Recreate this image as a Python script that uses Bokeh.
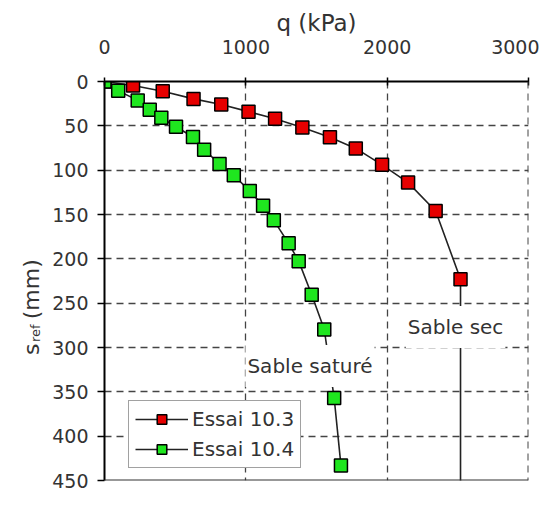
import math
from bokeh.plotting import figure
from bokeh.models import Range1d, FixedTicker, Span, Label, Legend, LegendItem
from bokeh.layouts import row
from bokeh.core.properties import value
from bokeh.embed import file_html
from bokeh.resources import INLINE

# Essai 10.3 (sable sec)
red_q = [0, 202, 412, 630, 826, 1019, 1207, 1400, 1595, 1778, 1964, 2148, 2343, 2519]
red_s = [0, 4.5, 11, 19.6, 26, 34, 42, 52, 63, 75.5, 94, 114, 146, 223]
# vertical continuation of Essai 10.3 after the last point
red_tail_q = [2519, 2519]
red_tail_s = [223, 460]

# Essai 10.4 (sable saturé)
green_q = [0, 97, 235, 320, 402, 506, 626, 705, 814, 915, 1028, 1122, 1198, 1303, 1374, 1466, 1555, 1625, 1673]
green_s = [0, 10.5, 21.3, 32, 41, 51, 62.6, 77, 93, 105.7, 123.6, 140, 156.6, 182.5, 202.6, 240.6, 279.7, 357, 433]

x_ticks = [0, 1000, 2000, 3000]
y_ticks = [0, 50, 100, 150, 200, 250, 300, 350, 400, 450]

FONT = "DejaVu Sans"
TXT = "#333333"
H = 490
LW = 45  # width of the strip that holds the y title

# ---------- strip with the y-axis title s_ref (mm) ----------
side = figure(width=LW, height=H, output_backend="svg", toolbar_location=None,
              x_range=Range1d(0, LW), y_range=Range1d(H, 0),
              min_border_left=0, min_border_right=0, min_border_top=0, min_border_bottom=0)
side.axis.visible = False
side.grid.visible = False
side.outline_line_color = None
side.text(x=[31], y=[336], text=["s"], angle=math.pi / 2, text_font=value(FONT),
          text_font_size="22px", text_color=TXT, text_baseline="alphabetic", text_align="left")
side.text(x=[35], y=[320], text=["ref"], angle=math.pi / 2, text_font=value(FONT),
          text_font_size="13px", text_color=TXT, text_baseline="alphabetic", text_align="left")
side.text(x=[31], y=[292], text=["(mm)"], angle=math.pi / 2, text_font=value(FONT),
          text_font_size="22px", text_color=TXT, text_baseline="alphabetic", text_align="left")

# ---------- main plot ----------
p = figure(width=539 - LW, height=H, output_backend="svg", toolbar_location=None,
           x_range=Range1d(0, 3000), y_range=Range1d(450, 0),
           x_axis_location="above",
           min_border_left=104 - LW, min_border_right=11, min_border_top=81, min_border_bottom=10)
p.outline_line_color = None
p.background_fill_color = "white"

p.xaxis.ticker = FixedTicker(ticks=x_ticks)
p.yaxis.ticker = FixedTicker(ticks=y_ticks)
p.xaxis.axis_label = "q (kPa)"
p.xaxis.axis_label_text_font = FONT
p.xaxis.axis_label_text_font_size = "23px"
p.xaxis.axis_label_text_font_style = "normal"
p.xaxis.axis_label_text_color = TXT
p.xaxis.axis_label_standoff = 1
for ax in (p.xaxis, p.yaxis):
    ax.major_label_text_font = FONT
    ax.major_label_text_font_size = "19px"
    ax.major_label_text_color = TXT
    ax.axis_line_color = "black"
    ax.axis_line_width = 2
    ax.major_tick_line_color = "black"
    ax.major_tick_line_width = 1.5
    ax.minor_tick_line_color = None
p.xaxis.major_tick_in = 4
p.xaxis.major_tick_out = 4
p.xaxis.major_label_standoff = 24
p.yaxis.major_tick_in = 0
p.yaxis.major_tick_out = 7
p.yaxis.major_label_standoff = 9

for g in (p.xgrid, p.ygrid):
    g.grid_line_color = "#444444"
    g.grid_line_dash = "7 5"
    g.grid_line_width = 1.3

p.add_layout(Span(location=450, dimension="width", line_color="#333333", line_width=2))
p.add_layout(Span(location=3000, dimension="height", line_color="#444444", line_width=2, line_dash="7 5"))

r_tail = p.line(red_tail_q, red_tail_s, line_color="#222222", line_width=1.6)
r_line = p.line(red_q, red_s, line_color="#222222", line_width=1.6)
r_pts = p.scatter(red_q, red_s, marker="square", size=13, fill_color="#e60000",
                  line_color="black", line_width=1.5)
g_line = p.line(green_q, green_s, line_color="#222222", line_width=1.6)
g_pts = p.scatter(green_q, green_s, marker="square", size=13, fill_color="#1fe61f",
                  line_color="black", line_width=1.5)

for txt, qx, sy in [("Sable saturé", 1454, 321), ("Sable sec", 2484, 277)]:
    p.add_layout(Label(x=qx, y=sy, text=txt, text_font=FONT, text_font_size="20px",
                       text_color=TXT, text_align="center", text_baseline="middle",
                       background_fill_color="white",
                       padding=dict(left=2, right=2, top=9, bottom=9)))

legend = Legend(items=[LegendItem(label="Essai 10.3", renderers=[r_line, r_pts]),
                       LegendItem(label="Essai 10.4", renderers=[g_line, g_pts])],
                location=(24, 12))
legend.label_text_font = FONT
legend.label_text_font_size = "20px"
legend.label_text_color = TXT
legend.border_line_color = "#444444"
legend.border_line_width = 1.5
legend.background_fill_color = "white"
legend.background_fill_alpha = 1
legend.glyph_width = 53
legend.glyph_height = 24
legend.label_standoff = 4
legend.spacing = 6
legend.padding = 6
legend.margin = 0
p.add_layout(legend)

layout = row(side, p)
open("out.html", "w").write(file_html(layout, INLINE))
